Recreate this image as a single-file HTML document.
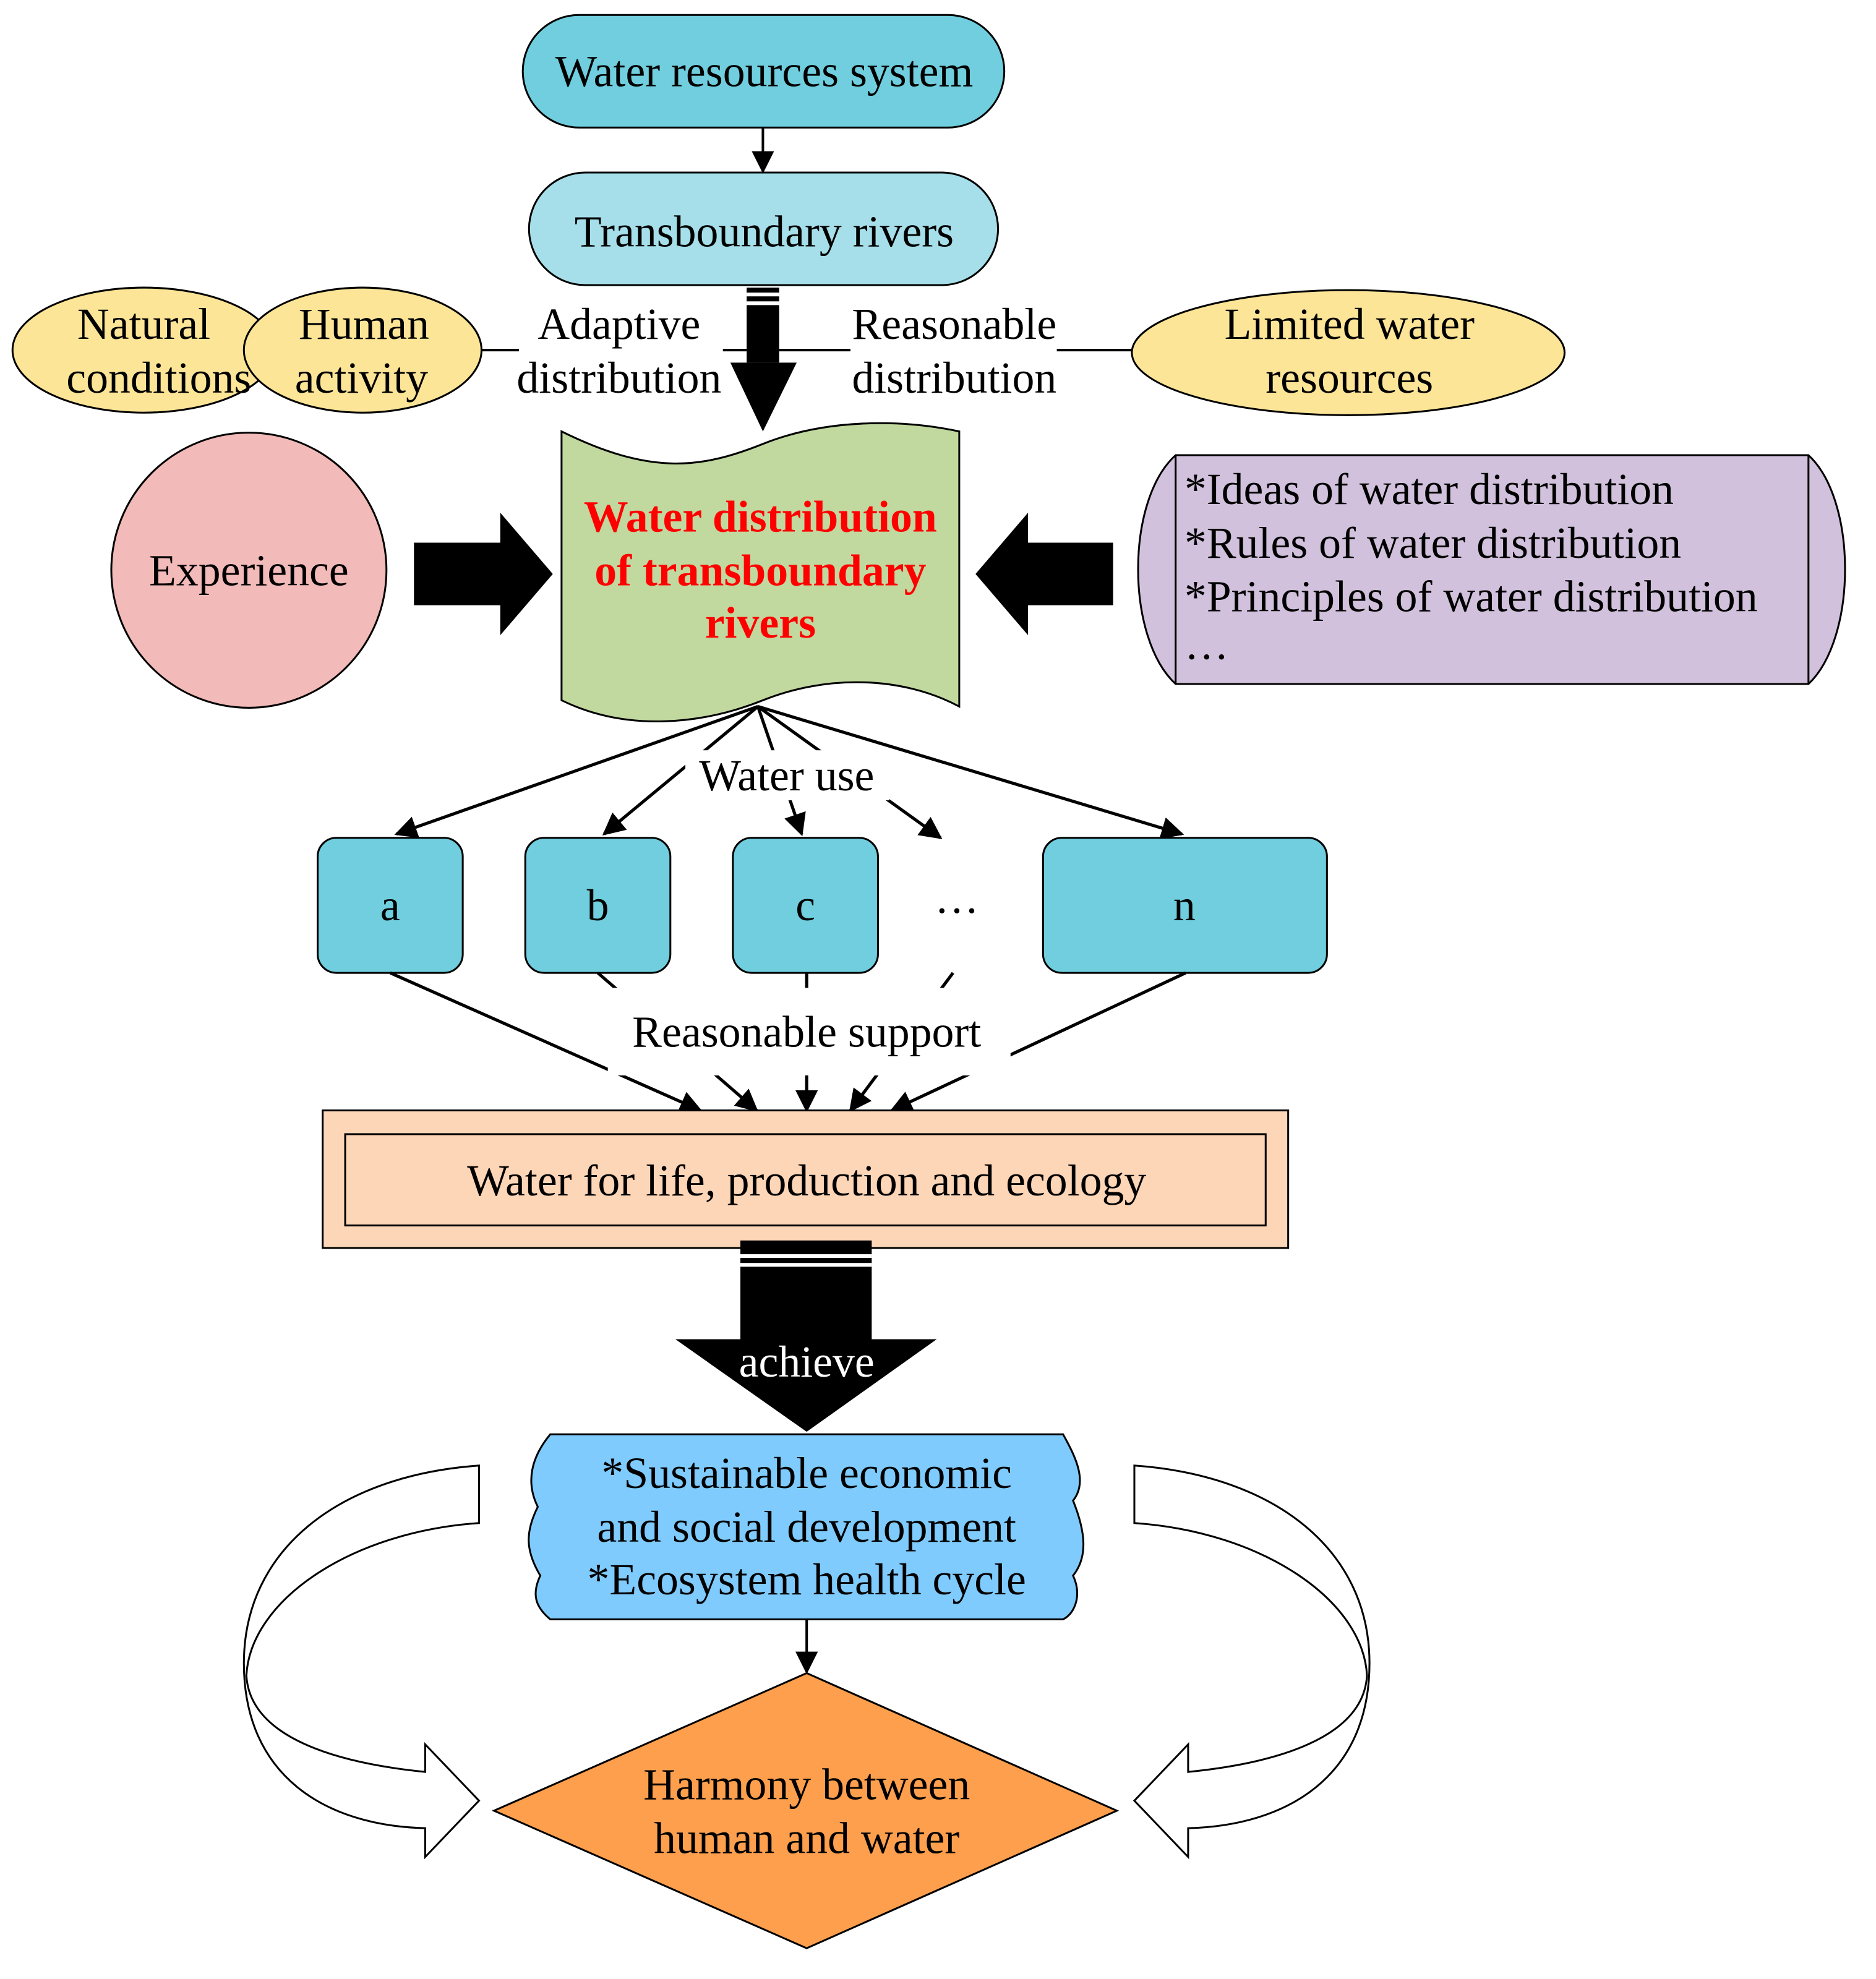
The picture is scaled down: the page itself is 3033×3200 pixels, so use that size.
<!DOCTYPE html>
<html><head><meta charset="utf-8"><style>
html,body{margin:0;padding:0;background:#fff}
svg{display:block}
text{font-family:"Liberation Serif",serif;font-size:35.5px;fill:#000}
</style></head><body>
<svg width="3033" height="3200" viewBox="0 0 1500 1582.6" preserveAspectRatio="none" xmlns="http://www.w3.org/2000/svg">
<defs>
<marker id="ah2" viewBox="0 0 10 10" markerWidth="18" markerHeight="18" refX="9" refY="5" orient="auto" markerUnits="userSpaceOnUse">
<path d="M0,0 L10,5 L0,10 z" fill="#000"/></marker>
</defs>
<g stroke="#000" stroke-width="1.5">
<rect x="418" y="12" width="385" height="90" rx="45" fill="#70CEDE"/>
<rect x="423" y="138" width="375" height="90" rx="45" fill="#A6DFEA"/>
</g>
<line x1="610" y1="102" x2="610" y2="137" stroke="#000" stroke-width="2" marker-end="url(#ah2)"/>
<text x="611" y="69" text-anchor="middle">Water resources system</text>
<text x="611" y="197" text-anchor="middle">Transboundary rivers</text>
<rect x="597" y="230" width="26" height="60" fill="#000"/>
<rect x="597" y="234" width="26" height="3" fill="#fff"/>
<rect x="597" y="241" width="26" height="3" fill="#fff"/>
<path d="M584,290 L637,290 L610,345 z" fill="#000"/>
<g stroke="#000" stroke-width="1.5" fill="#FDE598">
<ellipse cx="115" cy="280" rx="105" ry="50"/>
<ellipse cx="290" cy="280" rx="95" ry="50"/>
<ellipse cx="1078" cy="282" rx="173" ry="50"/>
</g>
<g stroke="#000" stroke-width="2">
<line x1="385" y1="280" x2="415" y2="280"/>
<line x1="578" y1="280" x2="597" y2="280"/>
<line x1="623" y1="280" x2="680" y2="280"/>
<line x1="845" y1="280" x2="905" y2="280"/>
</g>
<text x="115" y="271" text-anchor="middle">Natural</text>
<text x="127" y="314" text-anchor="middle">conditions</text>
<text x="291" y="271" text-anchor="middle">Human</text>
<text x="289" y="314" text-anchor="middle">activity</text>
<text x="495" y="271" text-anchor="middle">Adaptive</text>
<text x="495" y="314" text-anchor="middle">distribution</text>
<text x="763" y="271" text-anchor="middle">Reasonable</text>
<text x="763" y="314" text-anchor="middle">distribution</text>
<text x="1079" y="271" text-anchor="middle">Limited water</text>
<text x="1079" y="314" text-anchor="middle">resources</text>
<path d="M449,345 C520,380 560,375 610,355 C660,335 720,335 767,345 L767,565 C720,540 660,540 610,560 C560,580 500,585 449,560 Z" fill="#C1D89F" stroke="#000" stroke-width="1.5"/>
<text x="608" y="425" text-anchor="middle" style="fill:#f00;font-weight:bold">Water distribution</text>
<text x="608" y="468" text-anchor="middle" style="fill:#f00;font-weight:bold">of transboundary</text>
<text x="608" y="510" text-anchor="middle" style="fill:#f00;font-weight:bold">rivers</text>
<circle cx="199" cy="456" r="110" fill="#F2BAB8" stroke="#000" stroke-width="1.5"/>
<text x="199" y="468" text-anchor="middle">Experience</text>
<path d="M331,434 L400,434 L400,410 L442,459 L400,508 L400,484 L331,484 Z" fill="#000"/>
<path d="M890,434 L822,434 L822,410 L780,459 L822,508 L822,484 L890,484 Z" fill="#000"/>
<path d="M940,364 L1446,364 C1485,400 1485,510 1446,547 L940,547 C900,510 900,400 940,364 Z" fill="#D1C1DC" stroke="#000" stroke-width="1.5"/>
<line x1="940" y1="364" x2="940" y2="547" stroke="#000" stroke-width="1.5"/>
<line x1="1446" y1="364" x2="1446" y2="547" stroke="#000" stroke-width="1.5"/>
<text x="947" y="403">*Ideas of water distribution</text>
<text x="947" y="446">*Rules of water distribution</text>
<text x="947" y="489">*Principles of water distribution</text>
<text x="947" y="527">…</text>
<g stroke="#000" stroke-width="2.5">
<line x1="606" y1="565" x2="317" y2="667" marker-end="url(#ah2)"/>
<line x1="606" y1="565" x2="483" y2="667" marker-end="url(#ah2)"/>
<line x1="606" y1="565" x2="641" y2="667" marker-end="url(#ah2)"/>
<line x1="606" y1="565" x2="752" y2="670" marker-end="url(#ah2)"/>
<line x1="606" y1="565" x2="945" y2="667" marker-end="url(#ah2)"/>
</g>
<rect x="548" y="600" width="163" height="40" fill="#fff"/>
<text x="629" y="632" text-anchor="middle">Water use</text>
<g stroke="#000" stroke-width="1.5" fill="#70CEDE">
<rect x="254" y="670" width="116" height="108" rx="15"/>
<rect x="420" y="670" width="116" height="108" rx="15"/>
<rect x="586" y="670" width="116" height="108" rx="15"/>
<rect x="834" y="670" width="227" height="108" rx="15"/>
</g>
<text x="312" y="736" text-anchor="middle">a</text>
<text x="478" y="736" text-anchor="middle">b</text>
<text x="644" y="736" text-anchor="middle">c</text>
<text x="765" y="730" text-anchor="middle">…</text>
<text x="947" y="736" text-anchor="middle">n</text>
<g stroke="#000" stroke-width="2.5">
<line x1="312" y1="778" x2="560" y2="888" marker-end="url(#ah2)"/>
<line x1="478" y1="778" x2="605" y2="888" marker-end="url(#ah2)"/>
<line x1="645" y1="778" x2="645" y2="888" marker-end="url(#ah2)"/>
<line x1="762" y1="778" x2="680" y2="888" marker-end="url(#ah2)"/>
<line x1="948" y1="778" x2="713" y2="888" marker-end="url(#ah2)"/>
</g>
<rect x="486" y="790" width="322" height="70" fill="#fff"/>
<text x="645" y="837" text-anchor="middle">Reasonable support</text>
<rect x="258" y="888" width="772" height="110" fill="#FDD5B7" stroke="#000" stroke-width="1.5"/>
<rect x="276" y="907" width="736" height="73" fill="#FDD5B7" stroke="#000" stroke-width="1.5"/>
<text x="645" y="956" text-anchor="middle">Water for life, production and ecology</text>
<rect x="592" y="992" width="105" height="80" fill="#000"/>
<rect x="592" y="1003" width="105" height="3" fill="#fff"/>
<rect x="592" y="1010" width="105" height="3" fill="#fff"/>
<path d="M540,1071 L749,1071 L645,1145 Z" fill="#000"/>
<text x="645" y="1101" text-anchor="middle" style="fill:#fff">achieve</text>
<path d="M440,1147 L850,1147 C860,1165 870,1185 858,1200 C868,1225 870,1245 858,1260 C865,1275 860,1290 850,1295 L440,1295 C428,1285 425,1275 432,1260 C420,1240 420,1225 430,1205 C420,1185 425,1165 440,1147 Z" fill="#7FCBFD" stroke="#000" stroke-width="1.5"/>
<text x="645" y="1190" text-anchor="middle">*Sustainable economic</text>
<text x="645" y="1233" text-anchor="middle">and social development</text>
<text x="645" y="1275" text-anchor="middle">*Ecosystem health cycle</text>
<line x1="645" y1="1295" x2="645" y2="1337" stroke="#000" stroke-width="2" marker-end="url(#ah2)"/>
<path d="M645,1338 L893,1448 L645,1558 L395,1448 Z" fill="#FE9F4D" stroke="#000" stroke-width="1.5"/>
<text x="645" y="1439" text-anchor="middle">Harmony between</text>
<text x="645" y="1482" text-anchor="middle">human and water</text>
<path d="M383,1172 L383,1218 C280,1225 200,1280 197,1340 C200,1390 270,1410 340,1417 L340,1395 L383,1440 L340,1485 L340,1462 C260,1460 195,1420 195,1330 C195,1240 270,1180 383,1172 Z" fill="#fff" stroke="#000" stroke-width="1.5"/>
<path d="M907,1172 L907,1218 C1010,1225 1090,1280 1093,1340 C1090,1390 1020,1410 950,1417 L950,1395 L907,1440 L950,1485 L950,1462 C1030,1460 1095,1420 1095,1330 C1095,1240 1020,1180 907,1172 Z" fill="#fff" stroke="#000" stroke-width="1.5"/>
</svg>
</body></html>
